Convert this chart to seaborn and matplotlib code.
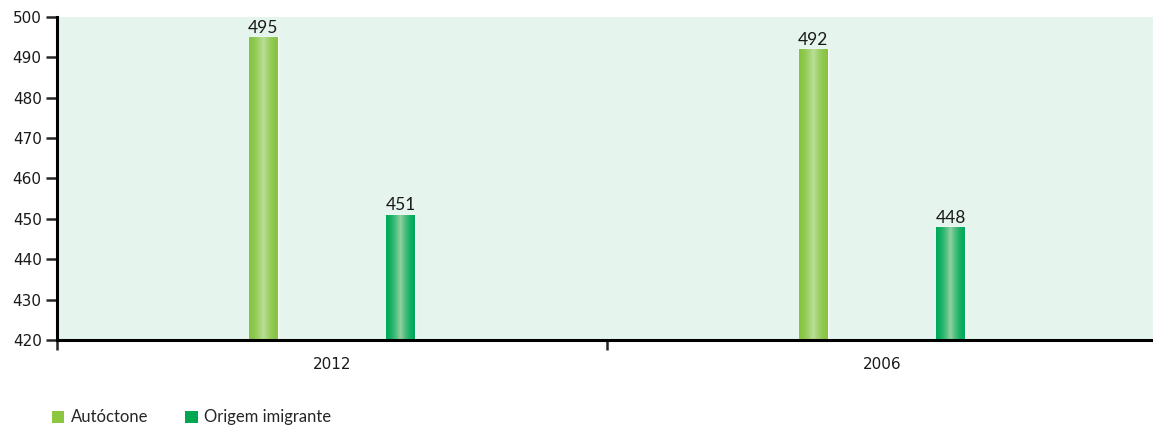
import numpy as np
import pandas as pd
import matplotlib
matplotlib.use("Agg")
import matplotlib.pyplot as plt
import seaborn as sns
from matplotlib.patches import Patch
from matplotlib.colors import to_rgb

# ---- data ----
years = ["2012", "2006"]
series = ["Autóctone", "Origem imigrante"]
autoctone = [495, 492]
imigrante = [451, 448]
yticks = [420, 430, 440, 450, 460, 470, 480, 490, 500]

colors = {"Autóctone": "#8dc63f", "Origem imigrante": "#00a651"}
grad = {"Autóctone": ("#86c440", "#bbdf98"), "Origem imigrante": ("#00aa5a", "#93d1a0")}

df = pd.DataFrame({
    "year": years * 2,
    "group": [series[0]] * 2 + [series[1]] * 2,
    "value": autoctone + imigrante,
})

sns.set_style("white")
plt.rcParams["font.family"] = ["DejaVu Sans"]

fig = plt.figure(figsize=(11.53, 4.26), dpi=100)
ax = fig.add_axes([57 / 1153, 86 / 426, 1100 / 1153, 323 / 426])
ax.set_facecolor("#e5f5ee")

sns.barplot(data=df, x="year", y="value", hue="group", order=years,
            hue_order=series, palette=colors, width=0.5, gap=0.79,
            ax=ax, legend=False, saturation=1, errorbar=None)

# gradient overlay on each bar
for cont, name in zip(ax.containers, series):
    edge, center = grad[name]
    e = np.array(to_rgb(edge)); c = np.array(to_rgb(center))
    t = np.linspace(0, 1, 64)
    w = np.clip(1 - np.abs((t - 0.5) / 0.5), 0, 1) ** 1.6
    img = (e[None, :] * (1 - w[:, None]) + c[None, :] * w[:, None])[None, :, :]
    for p in cont.patches:
        x0 = p.get_x(); x1 = x0 + p.get_width(); h = p.get_height()
        im = ax.imshow(img, extent=[x0, x1, 420, h], aspect="auto",
                       origin="lower", zorder=3, interpolation="bilinear")
        im.set_clip_path(p)
    ax.bar_label(cont, fmt="%d", padding=1, fontsize=12.5,
                 family=["Lato", "DejaVu Sans"], color="#1a1a1a", zorder=5)

ax.set_xlim(-0.5, 1.5)
ax.set_ylim(420, 500)
ax.set_yticks(yticks)
ax.set_yticklabels([str(v) for v in yticks], fontsize=11, color="#1a1a1a")
ax.set_xticks([-0.5, 0.5, 1.5])
ax.set_xticklabels([])
ax.set_xticks([0, 1], minor=True)
ax.set_xticklabels(years, minor=True, fontsize=11, color="#1a1a1a")
ax.tick_params(axis="x", which="major", length=7, width=1.8, direction="out", bottom=True)
ax.tick_params(axis="x", which="minor", length=0, pad=12, bottom=True)
ax.tick_params(axis="y", length=8, width=1.8, direction="out", left=True, pad=3)
ax.set_xlabel(""); ax.set_ylabel("")

for s in ["top", "right"]:
    ax.spines[s].set_visible(False)
for s in ["left", "bottom"]:
    ax.spines[s].set_linewidth(2.2)
    ax.spines[s].set_color("black")
    ax.spines[s].set_zorder(6)

handles = [Patch(facecolor=colors[s], edgecolor="none", label=s) for s in series]
fig.legend(handles=handles, loc="lower left", bbox_to_anchor=(0.032, -0.034),
           ncol=2, frameon=False, handlelength=0.75, handleheight=0.75,
           handletextpad=0.4, columnspacing=2.2,
           prop={"family": ["Lato", "DejaVu Sans"], "size": 12})

fig.savefig("out.png", dpi=100)
